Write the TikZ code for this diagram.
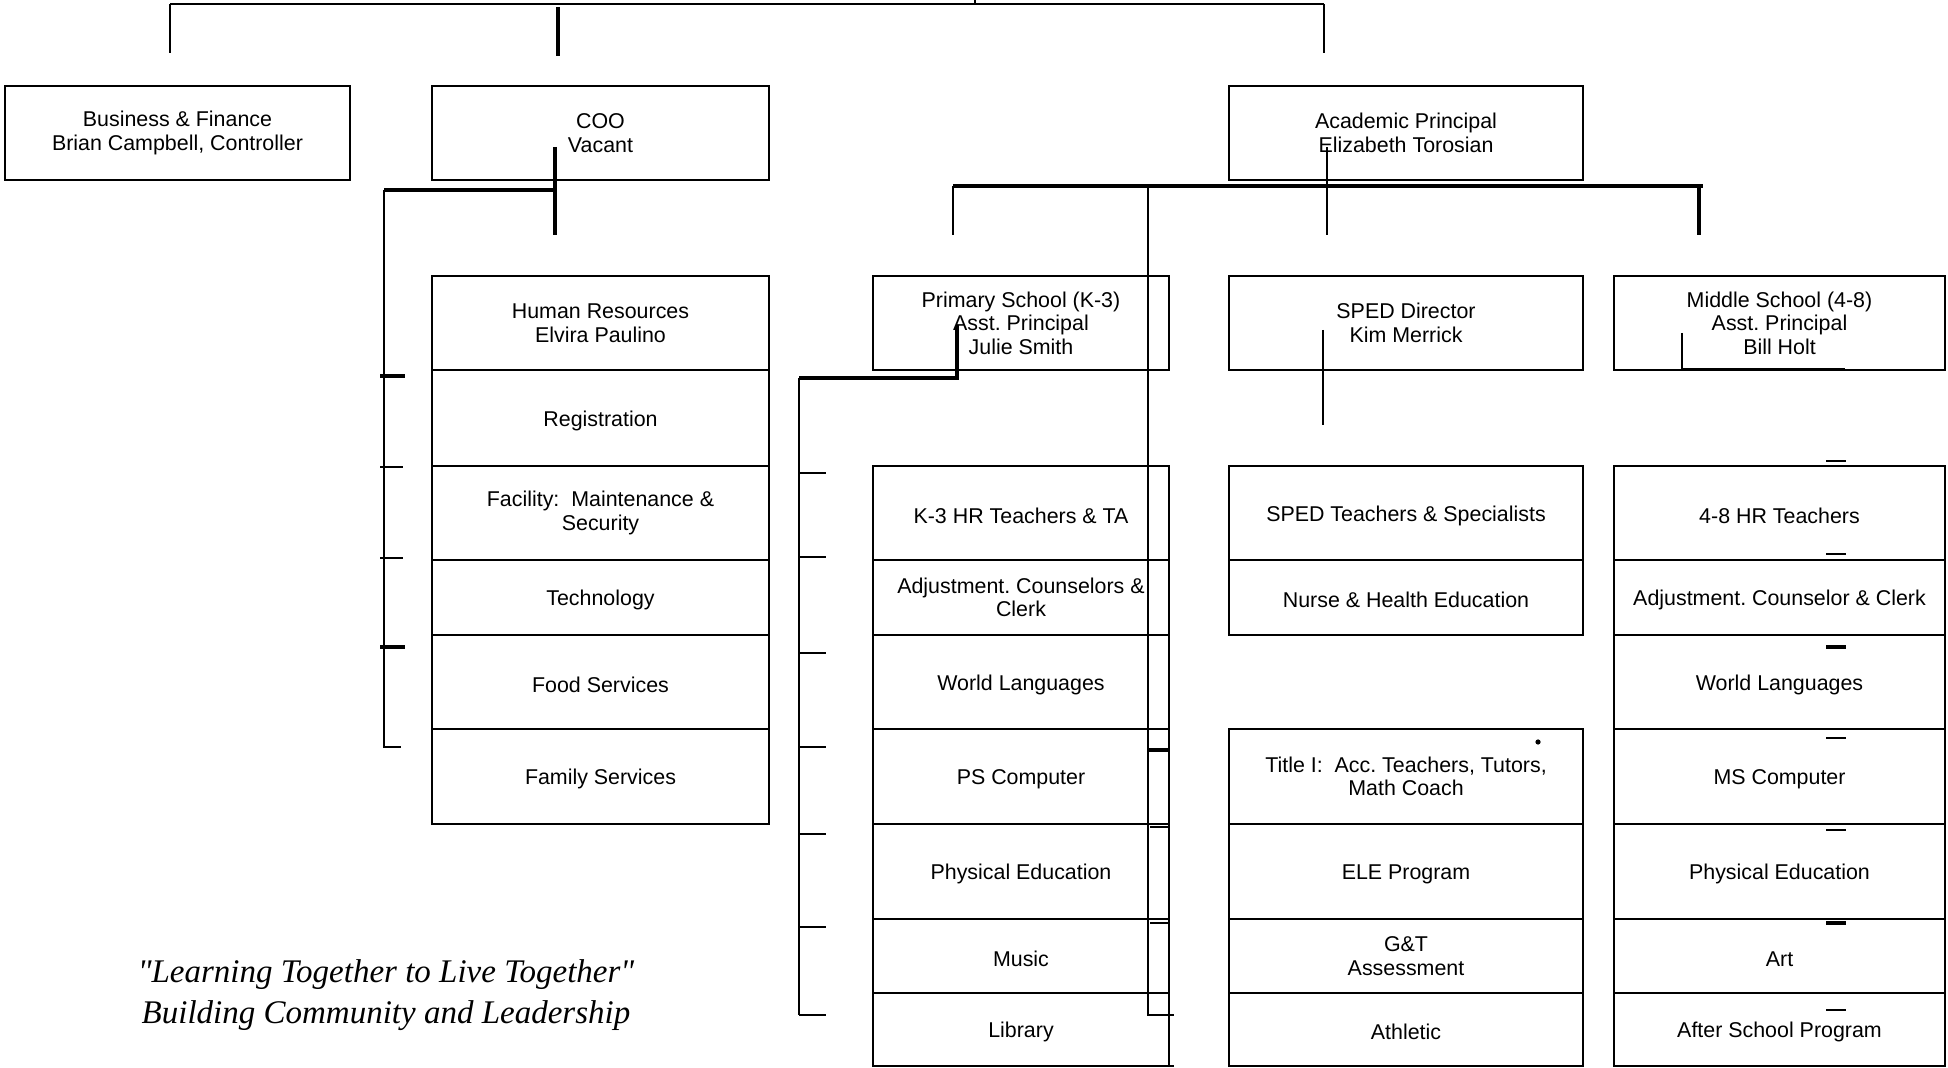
\documentclass[tikz,border=0pt]{standalone}
\usepackage{fontspec}
\setmainfont{Liberation Sans}
\newfontfamily\mottofont{Liberation Serif}
\usetikzlibrary{positioning,calc}
\frenchspacing

\tikzset{
  unit/.style={draw, line width=1pt, anchor=north west, align=center,
    inner sep=0pt, outer sep=0pt, font=\fontsize{10.7}{11.8}\selectfont,
    execute at begin node={\rule{0pt}{10.5pt}}},
  cellsize/.style 2 args={minimum width=#1*0.5pt, minimum height=#2*0.5pt},
  heavy/.style={line width=1.6pt}
}

\begin{document}
\begin{tikzpicture}[x=0.5pt, y=-0.5pt, line width=1pt]
  \useasboundingbox (0,0) rectangle (1948,1068);
  % top row
  \node[unit, cellsize={345}{94}] (finance) at (5,86) {Business \& Finance\\Brian Campbell, Controller};
  \node[unit, cellsize={337}{94}] (coo) at (432,86) {COO\\Vacant};
  \node[unit, cellsize={354}{94}] (principal) at (1229,86) {Academic Principal\\Elizabeth Torosian};
  % operations under the COO
  \node[unit, cellsize={337}{94}] (hr) at (432,276) {Human Resources\\Elvira Paulino};
  \node[unit, cellsize={337}{96}, below=0pt of hr] (registration) {Registration};
  \node[unit, cellsize={337}{94}, below=0pt of registration] (facility) {Facility:\ \ Maintenance \&\\Security};
  \node[unit, cellsize={337}{75}, below=0pt of facility] (technology) {Technology};
  \node[unit, cellsize={337}{94}, below=0pt of technology] (food) {Food Services};
  \node[unit, cellsize={337}{95}, below=0pt of food] (family) {Family Services};
  % primary school
  \node[unit, cellsize={296}{94}] (primary) at (873,276) {Primary School (K-3)\\Asst. Principal\\Julie Smith};
  \node[unit, cellsize={296}{94}, below=48pt of primary] (ps-teachers) {K-3 HR Teachers \& TA};
  \node[unit, cellsize={296}{75}, below=0pt of ps-teachers] (ps-counsel) {Adjustment. Counselors \&\\Clerk};
  \node[unit, cellsize={296}{94}, below=0pt of ps-counsel] (ps-lang) {World Languages};
  \node[unit, cellsize={296}{95}, below=0pt of ps-lang] (ps-comp) {PS Computer};
  \node[unit, cellsize={296}{95}, below=0pt of ps-comp] (ps-pe) {Physical Education};
  \node[unit, cellsize={296}{74}, below=0pt of ps-pe] (ps-music) {Music};
  \node[unit, cellsize={296}{73}, below=0pt of ps-music] (ps-library) {Library};
  % special education
  \node[unit, cellsize={354}{94}] (sped) at (1229,276) {SPED Director\\Kim Merrick};
  \node[unit, cellsize={354}{94}, below=48pt of sped] (sp-teachers) {SPED Teachers \& Specialists};
  \node[unit, cellsize={354}{75}, below=0pt of sp-teachers] (sp-nurse) {Nurse \& Health Education};
  \node[unit, cellsize={354}{95}, below=47pt of sp-nurse] (sp-title) {Title I:\ \ Acc. Teachers, Tutors,\\Math Coach};
  \node[unit, cellsize={354}{95}, below=0pt of sp-title] (sp-ele) {ELE Program};
  \node[unit, cellsize={354}{74}, below=0pt of sp-ele] (sp-gt) {G\&T\\Assessment};
  \node[unit, cellsize={354}{73}, below=0pt of sp-gt] (sp-athletic) {Athletic};
  % middle school
  \node[unit, cellsize={331}{94}] (middle) at (1614,276) {Middle School (4-8)\\Asst. Principal\\Bill Holt};
  \node[unit, cellsize={331}{94}, below=48pt of middle] (ms-teachers) {4-8 HR Teachers};
  \node[unit, cellsize={331}{75}, below=0pt of ms-teachers] (ms-counsel) {Adjustment. Counselor \& Clerk};
  \node[unit, cellsize={331}{94}, below=0pt of ms-counsel] (ms-lang) {World Languages};
  \node[unit, cellsize={331}{95}, below=0pt of ms-lang] (ms-comp) {MS Computer};
  \node[unit, cellsize={331}{95}, below=0pt of ms-comp] (ms-pe) {Physical Education};
  \node[unit, cellsize={331}{74}, below=0pt of ms-pe] (ms-art) {Art};
  \node[unit, cellsize={331}{73}, below=0pt of ms-art] (ms-after) {After School Program};
  % motto
  \node[font=\mottofont\itshape\fontsize{16.5}{20.5}\selectfont, align=center] (motto) at (386,995)
    {"Learning Together to Live Together"\\Building Community and Leadership};

  % board line
  \coordinate (board-w) at (170,4);
  \coordinate (board-e) at (1324,4);
  \draw (board-w) -- (board-e);
  \draw (975,0) -- (975,4);
  \draw (board-w) -- ++(0,49);
  \draw[heavy] (558,7) -- (558,56);
  \draw (board-e) -- ++(0,49);
  % COO bracket
  \coordinate (coo-drop) at (555,147);
  \coordinate (ops-bus) at (384,190);
  \draw[heavy] (coo-drop) -- (555,235);
  \draw[heavy] (coo-drop |- ops-bus) -- (ops-bus);
  \draw (ops-bus) -- (384,747) -- (401,747);
  \foreach \y in {376,647} \draw[heavy] (380,\y) -- (405,\y);
  \foreach \y in {467,558} \draw (380,\y) -- (403,\y);
  % academic bus
  \coordinate (acad-w) at (953,186);
  \coordinate (acad-e) at (1703,186);
  \draw[heavy] (acad-w) -- (acad-e);
  \draw (acad-w) -- ++(0,49);
  \draw (1327,147) -- (1327,235);
  \draw[heavy] (1699,186) -- (1699,235);
  \draw (1148,186) -- (1148,1015) -- (1174,1015);
  \draw[heavy] (1148,750) -- (1169,750);
  \foreach \y in {827,923} \draw (1150,\y) -- (1169,\y);
  \draw (1169,1066) -- (1174,1066);
  % primary bracket
  \coordinate (ps-drop) at (957,325);
  \coordinate (ps-bus) at (799,378);
  \draw[heavy] (ps-drop) -- (ps-drop |- ps-bus) -- (ps-bus);
  \draw (ps-bus) -- (799,1015);
  \foreach \y in {473,557,653,747,834,927,1015} \draw (799,\y) -- (826,\y);
  % sped line
  \draw (1323,330) -- (1323,425);
  \fill (1538,742) circle (1.3pt);
  % middle school line
  \coordinate (ms-drop) at (1682,333);
  \draw (ms-drop) -- (1682,369) -- (1845,369);
  \foreach \y in {461,554,738,830,1010} \draw (1826,\y) -- (1846,\y);
  \foreach \y in {647,923} \draw[heavy] (1826,\y) -- (1846,\y);
\end{tikzpicture}
\end{document}
